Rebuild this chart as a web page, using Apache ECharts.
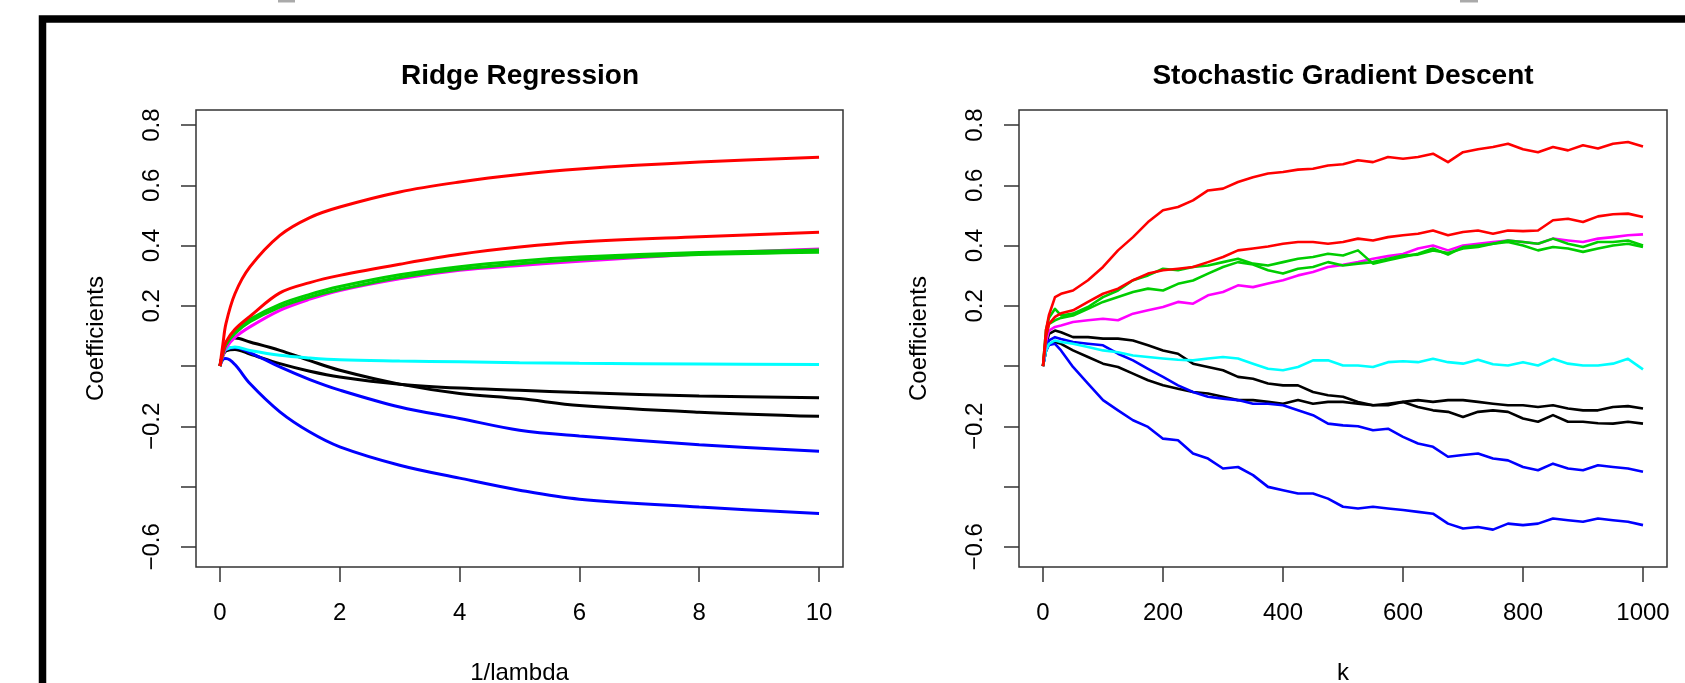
<!DOCTYPE html>
<html>
<head>
  <meta charset="utf-8">
  <title>Ridge vs SGD</title>
  <script src="https://cdn.jsdelivr.net/npm/echarts@6/dist/echarts.min.js"></script>
  <style>
    html, body { margin: 0; padding: 0; background: #fff; }
  </style>
</head>
<body>
<div id="main" style="width: 1685px;height:683px;"></div>
<script type="text/javascript">
  // ridge regression paths, x = 1/lambda
  var ridgeX = [0, 0.05, 0.1, 0.25, 0.5, 1, 1.5, 2, 3, 4, 5, 6, 8, 10];
  var ridgeRed1 = [0, 0.074, 0.141, 0.240, 0.329, 0.434, 0.493, 0.528, 0.578, 0.611, 0.636, 0.654, 0.677, 0.693];
  var ridgeRed2 = [0, 0.045, 0.080, 0.122, 0.165, 0.243, 0.277, 0.301, 0.338, 0.371, 0.395, 0.412, 0.429, 0.444];
  var ridgeGreen1 = [0, 0.045, 0.075, 0.115, 0.155, 0.205, 0.238, 0.264, 0.303, 0.330, 0.349, 0.362, 0.377, 0.385];
  var ridgeGreen2 = [0, 0.042, 0.070, 0.108, 0.147, 0.196, 0.229, 0.254, 0.294, 0.321, 0.340, 0.354, 0.370, 0.378];
  var ridgeMagenta = [0, 0.035, 0.060, 0.095, 0.130, 0.185, 0.222, 0.251, 0.290, 0.318, 0.334, 0.348, 0.372, 0.389];
  var ridgeCyan = [0, 0.040, 0.055, 0.063, 0.052, 0.036, 0.027, 0.021, 0.017, 0.014, 0.011, 0.009, 0.007, 0.005];
  var ridgeBlack1 = [0, 0.045, 0.075, 0.093, 0.080, 0.052, 0.018, -0.014, -0.060, -0.091, -0.108, -0.131, -0.153, -0.167];
  var ridgeBlack2 = [0, 0.035, 0.050, 0.055, 0.040, 0.008, -0.017, -0.036, -0.060, -0.073, -0.080, -0.088, -0.099, -0.105];
  var ridgeBlue1 = [0, 0.040, 0.055, 0.062, 0.045, -0.003, -0.045, -0.080, -0.136, -0.174, -0.213, -0.232, -0.261, -0.283];
  var ridgeBlue2 = [0, 0.022, 0.025, 0.005, -0.058, -0.152, -0.219, -0.268, -0.329, -0.372, -0.412, -0.442, -0.468, -0.489];

  // stochastic gradient descent, x = k
  var sgdK = [0, 5, 10, 20, 30, 50, 75, 100, 125, 150, 175, 200, 225, 250, 275, 300, 325, 350, 375, 400, 425, 450,
    475, 500, 525, 550, 575, 600, 625, 650, 675, 700, 725, 750, 775, 800, 825, 850, 875, 900, 925, 950, 975, 1000];
  var sgdRed1 = [0, 0.12, 0.17, 0.229, 0.24, 0.251, 0.285, 0.329, 0.384, 0.428, 0.478, 0.517, 0.528, 0.55, 0.583, 0.589,
    0.611, 0.627, 0.639, 0.644, 0.652, 0.655, 0.666, 0.67, 0.683, 0.677, 0.694, 0.688, 0.694, 0.705, 0.677, 0.71, 0.72,
    0.727, 0.738, 0.72, 0.71, 0.727, 0.716, 0.733, 0.722, 0.738, 0.744, 0.729];
  var sgdRed2 = [0, 0.10, 0.14, 0.163, 0.175, 0.185, 0.213, 0.24, 0.257, 0.285, 0.307, 0.318, 0.323, 0.329, 0.345, 0.362,
    0.384, 0.39, 0.397, 0.406, 0.412, 0.412, 0.406, 0.412, 0.423, 0.417, 0.428, 0.434, 0.439, 0.45, 0.434, 0.445, 0.45,
    0.439, 0.45, 0.448, 0.45, 0.484, 0.489, 0.478, 0.497, 0.504, 0.506, 0.495];
  var sgdGreen1 = [0, 0.12, 0.16, 0.19, 0.168, 0.174, 0.196, 0.229, 0.251, 0.285, 0.301, 0.323, 0.318, 0.329, 0.334, 0.345,
    0.356, 0.34, 0.334, 0.345, 0.356, 0.362, 0.373, 0.367, 0.384, 0.34, 0.351, 0.362, 0.373, 0.39, 0.37, 0.395, 0.4,
    0.406, 0.417, 0.412, 0.406, 0.423, 0.406, 0.395, 0.412, 0.412, 0.417, 0.4];
  var sgdGreen2 = [0, 0.10, 0.14, 0.152, 0.16, 0.168, 0.19, 0.213, 0.229, 0.246, 0.257, 0.251, 0.273, 0.284, 0.307, 0.329,
    0.345, 0.337, 0.318, 0.307, 0.323, 0.329, 0.345, 0.334, 0.34, 0.345, 0.356, 0.367, 0.37, 0.384, 0.375, 0.39, 0.395,
    0.406, 0.412, 0.4, 0.384, 0.395, 0.39, 0.379, 0.39, 0.4, 0.406, 0.395];
  var sgdMagenta = [0, 0.08, 0.118, 0.13, 0.135, 0.146, 0.152, 0.157, 0.152, 0.174, 0.185, 0.196, 0.213, 0.207, 0.235, 0.246,
    0.268, 0.262, 0.274, 0.285, 0.301, 0.312, 0.329, 0.336, 0.345, 0.356, 0.365, 0.372, 0.39, 0.4, 0.384, 0.4, 0.406,
    0.412, 0.417, 0.412, 0.406, 0.423, 0.417, 0.412, 0.423, 0.428, 0.434, 0.437];
  var sgdCyan = [0, 0.05, 0.074, 0.085, 0.08, 0.074, 0.063, 0.052, 0.046, 0.035, 0.03, 0.025, 0.021, 0.019, 0.025, 0.03,
    0.025, 0.008, -0.009, -0.014, -0.003, 0.019, 0.019, 0.002, 0.002, -0.003, 0.013, 0.016, 0.013, 0.024, 0.013, 0.008,
    0.021, 0.006, 0.002, 0.013, 0.002, 0.024, 0.008, 0.002, 0.002, 0.008, 0.024, -0.011];
  var sgdBlack1 = [0, 0.07, 0.107, 0.118, 0.112, 0.096, 0.096, 0.091, 0.091, 0.085, 0.069, 0.052, 0.041, 0.008, -0.003,
    -0.014, -0.036, -0.042, -0.058, -0.064, -0.064, -0.086, -0.097, -0.102, -0.119, -0.13, -0.125, -0.119, -0.136, -0.147,
    -0.152, -0.169, -0.152, -0.147, -0.152, -0.174, -0.185, -0.163, -0.185, -0.185, -0.19, -0.191, -0.185, -0.191];
  var sgdBlack2 = [0, 0.05, 0.074, 0.08, 0.074, 0.052, 0.03, 0.008, -0.003, -0.025, -0.047, -0.064, -0.075, -0.086, -0.091,
    -0.102, -0.113, -0.113, -0.119, -0.125, -0.113, -0.125, -0.119, -0.119, -0.125, -0.13, -0.13, -0.119, -0.113, -0.119,
    -0.113, -0.113, -0.119, -0.125, -0.13, -0.13, -0.136, -0.13, -0.141, -0.147, -0.147, -0.136, -0.133, -0.141];
  var sgdBlue1 = [0, 0.06, 0.085, 0.096, 0.09, 0.08, 0.074, 0.069, 0.041, 0.019, -0.009, -0.036, -0.064, -0.086, -0.102,
    -0.108, -0.113, -0.125, -0.125, -0.13, -0.147, -0.163, -0.191, -0.197, -0.2, -0.213, -0.208, -0.235, -0.257, -0.268,
    -0.301, -0.295, -0.29, -0.307, -0.313, -0.335, -0.346, -0.324, -0.34, -0.346, -0.329, -0.335, -0.34, -0.351];
  var sgdBlue2 = [0, 0.05, 0.07, 0.074, 0.052, -0.003, -0.058, -0.113, -0.147, -0.18, -0.202, -0.241, -0.246, -0.29, -0.307,
    -0.34, -0.335, -0.362, -0.401, -0.412, -0.423, -0.423, -0.44, -0.467, -0.473, -0.467, -0.473, -0.478, -0.484, -0.49,
    -0.523, -0.539, -0.534, -0.543, -0.523, -0.528, -0.523, -0.506, -0.512, -0.517, -0.506, -0.512, -0.517, -0.528];

  var ridgeTicks = [0, 2, 4, 6, 8, 10];
  var sgdTicks = [0, 200, 400, 600, 800, 1000];
  var yTicks = [-0.6, -0.4, -0.2, 0, 0.2, 0.4, 0.6, 0.8];
  var yLabels = [-0.6, -0.2, 0.2, 0.4, 0.6, 0.8];

  var RED = '#FF0000', GREEN = '#00CD00', MAGENTA = '#FF00FF', CYAN = '#00FFFF', BLACK = '#000000', BLUE = '#0000FF';
  var FONT = "'Liberation Sans', Arial, Helvetica, sans-serif";

  var ridgeSets = [
    [ridgeBlack1, BLACK], [ridgeBlack2, BLACK], [ridgeBlue1, BLUE], [ridgeBlue2, BLUE], [ridgeCyan, CYAN],
    [ridgeMagenta, MAGENTA], [ridgeGreen2, GREEN], [ridgeGreen1, GREEN], [ridgeRed2, RED], [ridgeRed1, RED]
  ];
  var sgdSets = [
    [sgdBlack1, BLACK], [sgdBlack2, BLACK], [sgdBlue1, BLUE], [sgdBlue2, BLUE], [sgdCyan, CYAN],
    [sgdMagenta, MAGENTA], [sgdGreen2, GREEN], [sgdGreen1, GREEN], [sgdRed2, RED], [sgdRed1, RED]
  ];

  function yFmt(v) {
    var s = Math.abs(v).toFixed(1);
    return v < 0 ? '\u2212' + s : s;
  }

  function xAxisFor(idx, min, max, ticks, name) {
    return {
      type: 'value', gridIndex: idx, min: min, max: max,
      name: name, nameLocation: 'middle', nameGap: 94,
      nameTextStyle: { fontFamily: FONT, fontSize: 24, color: '#000' },
      axisLine: { show: false, onZero: false },
      splitLine: { show: false },
      axisTick: { show: true, inside: false, length: 15, customValues: ticks, lineStyle: { color: '#333', width: 1.5 } },
      axisLabel: { customValues: ticks, margin: 34, fontFamily: FONT, fontSize: 24, color: '#000',
        formatter: function (v) { return String(v); } }
    };
  }

  function yAxisFor(idx) {
    return {
      type: 'value', gridIndex: idx, min: -0.667, max: 0.85,
      name: 'Coefficients', nameLocation: 'middle', nameGap: 88, nameRotate: 90,
      nameTextStyle: { fontFamily: FONT, fontSize: 24, color: '#000' },
      axisLine: { show: false, onZero: false },
      splitLine: { show: false },
      axisTick: { show: true, inside: false, length: 15, customValues: yTicks, lineStyle: { color: '#333', width: 1.5 } },
      axisLabel: { customValues: yLabels, rotate: 90, margin: 32, fontFamily: FONT, fontSize: 24, color: '#000', formatter: yFmt }
    };
  }

  var series = [];
  ridgeSets.forEach(function (s) {
    series.push({
      type: 'line', xAxisIndex: 0, yAxisIndex: 0, showSymbol: false, smooth: 0.35,
      lineStyle: { color: s[1], width: 3 }, itemStyle: { color: s[1] },
      data: ridgeX.map(function (x, i) { return [x, s[0][i]]; })
    });
  });
  sgdSets.forEach(function (s) {
    series.push({
      type: 'line', xAxisIndex: 1, yAxisIndex: 1, showSymbol: false,
      lineStyle: { color: s[1], width: 2.6, join: 'round' }, itemStyle: { color: s[1] },
      data: sgdK.map(function (k, i) { return [k, s[0][i]]; })
    });
  });

  var chart = echarts.init(document.getElementById('main'));
  var option = {
    animation: false,
    backgroundColor: '#fff',
    title: [
      { text: 'Ridge Regression', left: 520, top: 62, textAlign: 'center', padding: 0,
        textStyle: { fontFamily: FONT, fontSize: 28, fontWeight: 'bold', color: '#000' } },
      { text: 'Stochastic Gradient Descent', left: 1343, top: 62, textAlign: 'center', padding: 0,
        textStyle: { fontFamily: FONT, fontSize: 28, fontWeight: 'bold', color: '#000' } }
    ],
    grid: [
      { left: 196, top: 110, width: 647, height: 457, outerBoundsMode: 'none', containLabel: false,
        show: true, borderColor: '#333', borderWidth: 1.5, backgroundColor: 'transparent' },
      { left: 1019, top: 110, width: 648, height: 457, outerBoundsMode: 'none', containLabel: false,
        show: true, borderColor: '#333', borderWidth: 1.5, backgroundColor: 'transparent' }
    ],
    xAxis: [
      xAxisFor(0, -0.4, 10.4, ridgeTicks, '1/lambda'),
      xAxisFor(1, -40, 1040, sgdTicks, 'k')
    ],
    yAxis: [yAxisFor(0), yAxisFor(1)],
    graphic: [
      { type: 'rect', shape: { x: 42.5, y: 19, width: 3000, height: 3000 }, style: { fill: 'none', stroke: '#000', lineWidth: 7.5 }, silent: true },
      { type: 'rect', shape: { x: 278, y: 0, width: 17, height: 2.5 }, style: { fill: '#aaa' }, silent: true },
      { type: 'rect', shape: { x: 1460, y: 0, width: 18, height: 2.5 }, style: { fill: '#aaa' }, silent: true }
    ],
    series: series
  };
  chart.setOption(option);
</script>
</body>
</html>
